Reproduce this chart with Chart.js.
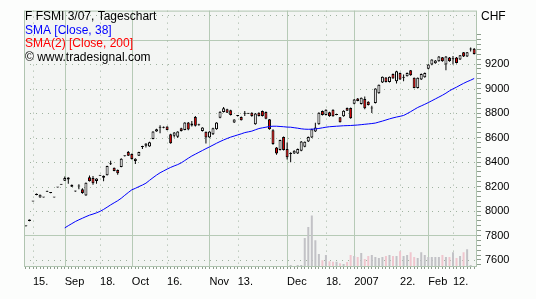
<!DOCTYPE html>
<html>
<head>
<meta charset="utf-8">
<script src="https://cdn.jsdelivr.net/npm/chart.js@4.4.1/dist/chart.umd.min.js"></script>
<style>
html, body { margin: 0; padding: 0; background: #fcfdfc; }
#wrap { width: 536px; height: 299px; }
</style>
</head>
<body>
<div id="wrap"><canvas id="chart" width="536" height="299"></canvas></div>
<script>
// F FSMI 3/07 Tagesbalken, Index = Handelstag (0 = 11. Aug 2006)
var opens = [
  7876, 7918, 8078, 8130, 8111, 8111, 8158, 8146, 8111, 8192,
  8214, 8246, 8273, 8198, 8160, 8200, 8178, 8127, 8276, 8270,
  8245, 8288, 8287, 8292, 8382, 8354, 8335, 8360, 8447, 8481,
  8465, 8408, 8451, 8522, 8533, 8527, 8587, 8649, 8680, 8680,
  8689, 8627, 8614, 8606, 8676, 8662, 8722, 8697, 8768, 8700,
  8654, 8646, 8600, 8627, 8668, 8762, 8808, 8830, 8822, 8722,
  8775, 8768, 8793, 8794, 8803, 8709, 8803, 8816, 8808, 8749,
  8660, 8519, 8498, 8605, 8506, 8465, 8470, 8470, 8492, 8524,
  8568, 8600, 8649, 8709, 8816, 8784, 8806, 8827, 8783, 8765,
  8773, 8841, 8841, 8876, 8919, 8873, 8914, 8892, 8836, 8882,
  8962, 9049, 9090, 9054, 9119, 9060, 9127, 9088, 9100, 9149,
  9087, 9005, 9073, 9092, 9162, 9195, 9206, 9222, 9255, 9195,
  9254, 9238, 9254, 9236, 9295, 9262, 9318, 9325
];
var highs = [
  7878, 7930, 8080, 8142, 8135, 8113, 8166, 8148, 8113, 8194,
  8216, 8281, 8275, 8216, 8166, 8219, 8186, 8232, 8290, 8285,
  8268, 8292, 8289, 8370, 8410, 8356, 8338, 8430, 8453, 8489,
  8470, 8430, 8484, 8533, 8553, 8565, 8652, 8672, 8700, 8690,
  8692, 8630, 8645, 8652, 8680, 8725, 8727, 8735, 8776, 8712,
  8684, 8650, 8652, 8680, 8725, 8814, 8850, 8835, 8826, 8750,
  8778, 8772, 8816, 8797, 8806, 8800, 8806, 8820, 8812, 8752,
  8668, 8522, 8582, 8608, 8559, 8480, 8495, 8510, 8571, 8568,
  8608, 8672, 8720, 8806, 8820, 8830, 8810, 8830, 8786, 8768,
  8822, 8845, 8845, 8914, 8922, 8927, 8935, 8895, 8860, 9003,
  9033, 9098, 9093, 9098, 9122, 9144, 9130, 9114, 9130, 9152,
  9090, 9090, 9122, 9130, 9198, 9239, 9232, 9266, 9258, 9266,
  9257, 9265, 9257, 9274, 9298, 9298, 9335, 9330
];
var lows = [
  7874, 7916, 8076, 8128, 8108, 8109, 8156, 8144, 8109, 8190,
  8212, 8244, 8222, 8196, 8158, 8178, 8140, 8125, 8240, 8215,
  8222, 8286, 8243, 8290, 8376, 8325, 8295, 8358, 8445, 8449,
  8420, 8384, 8449, 8506, 8519, 8525, 8585, 8646, 8635, 8675,
  8660, 8550, 8600, 8595, 8650, 8660, 8660, 8690, 8690, 8696,
  8650, 8551, 8597, 8620, 8664, 8758, 8805, 8800, 8780, 8718,
  8772, 8738, 8776, 8792, 8770, 8705, 8772, 8772, 8750, 8664,
  8540, 8460, 8494, 8494, 8420, 8397, 8466, 8466, 8488, 8520,
  8564, 8596, 8645, 8705, 8780, 8780, 8770, 8770, 8781, 8722,
  8770, 8816, 8754, 8872, 8895, 8870, 8830, 8862, 8800, 8878,
  8958, 9045, 9050, 9050, 9079, 9040, 9070, 9060, 9097, 9105,
  9002, 9000, 9070, 9088, 9158, 9190, 9203, 9218, 9218, 9150,
  9218, 9195, 9205, 9232, 9258, 9258, 9303, 9278
];
var closes = [
  7876, 7930, 8078, 8140, 8133, 8111, 8165, 8146, 8111, 8192,
  8214, 8270, 8257, 8214, 8164, 8203, 8146, 8230, 8243, 8227,
  8265, 8290, 8271, 8368, 8386, 8327, 8308, 8427, 8451, 8451,
  8425, 8427, 8481, 8526, 8551, 8562, 8649, 8668, 8682, 8682,
  8662, 8554, 8641, 8649, 8654, 8722, 8665, 8714, 8695, 8708,
  8681, 8600, 8649, 8676, 8722, 8811, 8838, 8803, 8784, 8746,
  8777, 8741, 8797, 8796, 8776, 8795, 8776, 8776, 8754, 8668,
  8546, 8470, 8579, 8498, 8438, 8470, 8492, 8506, 8568, 8565,
  8605, 8668, 8681, 8803, 8784, 8827, 8773, 8773, 8785, 8725,
  8819, 8819, 8757, 8911, 8898, 8924, 8838, 8865, 8840, 9000,
  9030, 9095, 9054, 9095, 9082, 9141, 9073, 9092, 9127, 9108,
  9005, 9087, 9119, 9127, 9195, 9236, 9228, 9262, 9222, 9262,
  9222, 9242, 9208, 9271, 9262, 9295, 9320, 9281
];
// Volumen in tausend Kontrakten
var volumes = [
  0, 0, 0, 0, 0, 0, 0, 0, 0, 0,
  0, 0, 0, 0, 0, 0, 0, 0, 0, 0,
  0, 0, 0, 0, 0, 0, 0, 0, 0, 0,
  0, 0, 0, 0, 0, 0, 0, 0, 0, 0,
  0, 0, 0, 0, 0, 0, 0, 0, 0, 0,
  0, 0, 0, 0, 0, 0, 0, 0, 0, 0,
  0, 0, 0, 0, 0, 0, 0, 0, 0, 0,
  0, 0, 0, 0, 0, 0.4, 0, 0.4, 0.4,
  11, 15.3, 19.8, 10.1, 4.7, 2.3, 4.3, 1.9, 1.7, 1.7,
  1.05, 0.8, 1.6, 4.3, 3.9, 3.5, 5.1, 2.7, 3.9, 4.3,
  3.5, 3.1, 3.5, 3.9, 4.3, 3.9, 3.9, 5.8, 3.9, 4.3,
  5.4, 3.5, 3.1, 5.4, 4.3, 3.5, 3.5, 3.5, 3.5, 4.3,
  3.5, 3.5, 5.4, 3.1, 3.9, 5.4, 6.6, 0.4
];
// SMA [Close, 38] ab Handelstag 11 (1. Sep)
var smaStart = 11;
var sma38 = [
  7862, 7880, 7897, 7914, 7928, 7941, 7954, 7966, 7975, 7985,
  7997, 8013, 8031, 8050, 8067, 8084, 8104, 8128, 8151, 8173,
  8185, 8199, 8212, 8227, 8250, 8272, 8293, 8312, 8327, 8342,
  8356, 8368, 8379, 8393, 8412, 8431, 8449, 8464, 8479, 8494,
  8509, 8523, 8538, 8553, 8567, 8580, 8592, 8603, 8612, 8621,
  8630, 8640, 8646, 8652, 8663, 8673, 8679, 8684, 8690, 8692,
  8692, 8690, 8688, 8685, 8684, 8680, 8676, 8671, 8668, 8667,
  8668, 8670, 8674, 8679, 8684, 8688, 8690, 8692, 8694, 8696,
  8697, 8698, 8700, 8702, 8705, 8708, 8711, 8714, 8718, 8726,
  8734, 8743, 8752, 8760, 8767, 8773, 8780, 8795, 8811, 8828,
  8845, 8858, 8871, 8885, 8900, 8915, 8930, 8945, 8962, 8981,
  8997, 9011, 9027, 9042, 9056, 9068, 9082
];

// Zeitachse: Handelstag -> Beschriftung
var tickSlots = [2, 11, 21, 30, 40, 52, 60, 74, 85, 93, 106, 114, 121];
var tickLabels = ['15.', 'Sep', '18.', 'Oct', '16.', 'Nov', '13.', 'Dec', '18.', '2007', '22.', 'Feb', '12.'];
var monthSlots = [11, 30, 52, 74, 93, 114];
// Preisachse
var priceLabels = [7600, 7800, 8000, 8200, 8400, 8600, 8800, 9000, 9200];
var gridPrices = [7600, 7800, 8000, 8200, 8400, 8600, 8800, 9000, 9200, 9400, 9600];
var solidPrices = [7800, 9400];
var legendLines = ['F FSMI 3/07, Tageschart', 'SMA [Close, 38]', 'SMA(2) [Close, 200]', '\u00a9 www.tradesignal.com'];
var legendColors = ['#000000', '#0000ff', '#ff0000', '#000000'];

var FONT = '"Liberation Sans", Arial, sans-serif';
Chart.defaults.font.family = FONT;
Chart.defaults.font.size = 11;
Chart.defaults.color = '#000000';

function isUp(i) { return closes[i] >= opens[i]; }

var wickData = opens.map(function (o, i) { return { x: i, y: [lows[i], highs[i]] }; });
var bodyData = opens.map(function (o, i) { return { x: i, y: [Math.min(o, closes[i]), Math.max(o, closes[i])] }; });
var volData = volumes.map(function (v, i) { return { x: i, y: v }; });
var smaData = sma38.map(function (v, i) { return { x: smaStart + i, y: v }; });

var yTicks = [];
for (var p = 7560; p <= 9440; p += 40) yTicks.push(p);

// Hintergrund, Raster, Rahmen und Texte
var raster = {
  id: 'raster',
  beforeDraw: function (chart) {
    var ctx = chart.ctx, a = chart.chartArea;
    ctx.save();
    ctx.fillStyle = '#fcfdfc';
    ctx.fillRect(0, 0, chart.width, chart.height);
    ctx.fillStyle = '#f3f5f3';
    ctx.fillRect(a.left, a.top, a.right - a.left, a.bottom - a.top);
    ctx.restore();
  },
  beforeDatasetsDraw: function (chart) {
    var ctx = chart.ctx, a = chart.chartArea;
    var xs = chart.scales.x, ys = chart.scales.y;
    ctx.save();
    ctx.lineWidth = 1;
    gridPrices.forEach(function (v) {
      var y = Math.round(ys.getPixelForValue(v)) + 0.5;
      var solid = solidPrices.indexOf(v) >= 0;
      ctx.strokeStyle = solid ? '#b6cab6' : '#9fb29f';
      ctx.setLineDash(solid ? [] : [1, 5]);
      ctx.beginPath();
      ctx.moveTo(a.left, y);
      ctx.lineTo(a.right, y);
      ctx.stroke();
    });
    tickSlots.forEach(function (k) {
      var x = Math.round(xs.getPixelForValue(k)) + 0.5;
      var solid = monthSlots.indexOf(k) >= 0;
      ctx.strokeStyle = solid ? '#b6cab6' : '#9fb29f';
      ctx.setLineDash(solid ? [] : [1, 5]);
      ctx.beginPath();
      ctx.moveTo(x, a.top);
      ctx.lineTo(x, a.bottom);
      ctx.stroke();
    });
    ctx.restore();
  },
  afterDatasetsDraw: function (chart) {
    var ctx = chart.ctx, a = chart.chartArea;
    ctx.save();
    ctx.strokeStyle = '#b0c4b0';
    ctx.lineWidth = 1;
    ctx.strokeRect(a.left + 0.5, a.top + 0.5, a.right - a.left - 1, a.bottom - a.top);
    ctx.font = '12px ' + FONT;
    ctx.textBaseline = 'middle';
    ctx.textAlign = 'left';
    legendLines.forEach(function (t, i) {
      ctx.fillStyle = legendColors[i];
      ctx.fillText(t, a.left + 1, 17 + i * 13.5);
    });
    ctx.fillStyle = '#000000';
    ctx.fillText('CHF', a.right + 4, 17);
    ctx.restore();
  }
};

new Chart(document.getElementById('chart'), {
  type: 'bar',
  data: {
    datasets: [
      {
        type: 'line', label: 'SMA [Close, 38]', data: smaData, yAxisID: 'y',
        borderColor: '#0000ff', borderWidth: 1, pointRadius: 0, tension: 0, order: 1
      },
      {
        label: 'body', data: bodyData, yAxisID: 'y', grouped: false, order: 2,
        barThickness: 3, minBarLength: 1, borderWidth: 1, borderSkipped: false, inflateAmount: 0,
        borderColor: '#000000',
        backgroundColor: function (c) { return isUp(c.dataIndex) ? '#ffffff' : '#e40000'; }
      },
      {
        label: 'wick', data: wickData, yAxisID: 'y', grouped: false, order: 3,
        barThickness: 1, borderWidth: 0, inflateAmount: 0, backgroundColor: '#000000'
      },
      {
        label: 'Volumen', data: volData, yAxisID: 'y2', grouped: false, order: 4,
        barThickness: 2, borderWidth: 0, inflateAmount: 0,
        backgroundColor: function (c) { return isUp(c.dataIndex) ? '#c2c2c6' : '#f0c6ce'; }
      }
    ]
  },
  options: {
    responsive: false,
    animation: false,
    devicePixelRatio: 1,
    layout: { padding: { left: 24, top: 9, right: 0, bottom: 0 } },
    plugins: { legend: { display: false }, tooltip: { enabled: false } },
    scales: {
      x: {
        type: 'linear', min: -0.55, max: 127.8, offset: false,
        afterBuildTicks: function (s) { s.ticks = opens.map(function (o, i) { return { value: i }; }); },
        afterFit: function (s) { s.height = 33; },
        grid: { drawOnChartArea: false, offset: false, tickLength: 3, tickColor: '#8c9c8c' },
        border: { display: false },
        ticks: {
          autoSkip: false, maxRotation: 0, minRotation: 0, align: 'start', padding: 6,
          callback: function (v) { var i = tickSlots.indexOf(v); return i >= 0 ? tickLabels[i] : ''; }
        }
      },
      y: {
        position: 'right', min: 7551, max: 9636,
        afterBuildTicks: function (s) { s.ticks = yTicks.map(function (v) { return { value: v }; }); },
        afterFit: function (s) { s.width = 59; },
        grid: { drawOnChartArea: false, tickLength: 4, tickColor: '#8c9c8c' },
        border: { display: false },
        ticks: {
          autoSkip: false, padding: 4,
          callback: function (v) { return priceLabels.indexOf(v) >= 0 ? String(v) : ''; }
        }
      },
      y2: { display: false, min: 0, max: 100 }
    }
  },
  plugins: [raster]
});
</script>
</body>
</html>
